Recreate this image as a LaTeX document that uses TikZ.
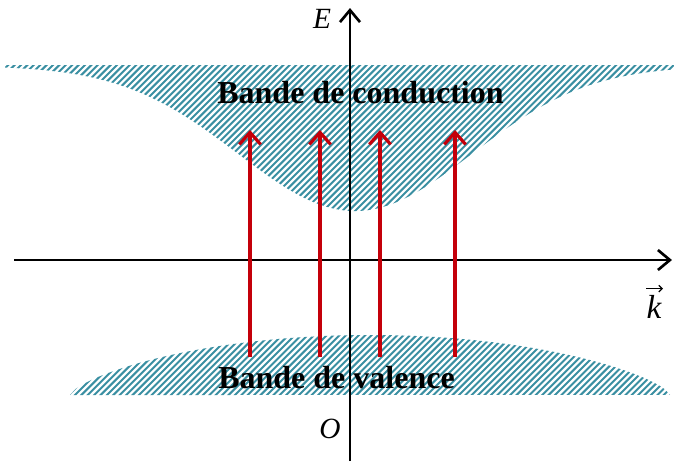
\documentclass[tikz,border=0pt]{standalone}
\usepackage{fontspec}
\setmainfont{Liberation Serif}
\usetikzlibrary{arrows.meta}
\definecolor{hatch}{RGB}{58,143,162}
\definecolor{arrred}{RGB}{196,0,10}
\begin{document}
\begin{tikzpicture}[x=0.75pt,y=-0.75pt,
  axis/.style={line width=2pt,-{Straight Barb[length=9pt,width=15pt,line width=2pt]}},
  trans/.style={arrred,line width=2.4pt,-{Straight Barb[length=9pt,width=16pt,line width=2.4pt]}},
  bandlabel/.style={font=\bfseries\fontsize{24}{28}\selectfont,anchor=base,inner sep=0pt},
  axlabel/.style={font=\itshape\fontsize{22}{26}\selectfont,anchor=base,inner sep=0pt},
  hatchline/.style={hatch,line width=1.5pt}]
\useasboundingbox (0,0) rectangle (674,462);
% conduction band
\begin{scope}
\clip plot[domain=5:674,samples=120,smooth] (\x,{66+145*exp(-((\x-355)/165)^2)}) -- (674,65) -- (5,65) -- cycle;
\foreach \c in {0,6.4,...,1150} \draw[hatchline] (\c,-10) -- (\c-480,470);
\end{scope}
% valence band
\begin{scope}
\clip plot[domain=-300:300,samples=100,smooth] ({370+\x},{395-60*(1-(\x/300)^2)^0.7}) -- cycle;
\foreach \c in {0,6.4,...,1150} \draw[hatchline] (\c,-10) -- (\c-480,470);
\end{scope}
\node[bandlabel] (cb) at (360.5,103) {Bande de conduction};
\node[bandlabel] (vb) at (336.5,388) {Bande de valence};
% axes
\coordinate (xs) at (14,260);
\coordinate (xe) at (672,260);
\coordinate (ys) at (350,461);
\coordinate (ye) at (350,8);
\draw[axis] (xs) -- (xe);
\draw[axis] (ys) -- (ye);
\node[axlabel] (E) at (322,28) {E};
\node[axlabel] (O) at (330,438) {O};
\node[axlabel,font=\itshape\fontsize{25}{28}\selectfont] (k) at (654,318) {k};
\coordinate (kv1) at ([shift={(-8,-6)}]k.north);
\coordinate (kv2) at ([shift={(9,-6)}]k.north);
\draw[line width=0.9pt,-{Straight Barb[length=2.5pt,width=5pt,line width=0.9pt]}] (kv1) -- (kv2);
% transitions
\foreach \x [count=\i] in {250,320,380,455} {
  \coordinate (a\i) at (\x,357);
  \coordinate (b\i) at (\x,130);
  \draw[trans] (a\i) -- (b\i);
}
\end{tikzpicture}
\end{document}
